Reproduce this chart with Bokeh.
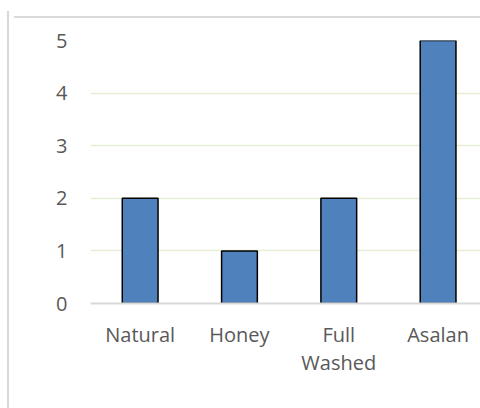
from bokeh.plotting import figure
from bokeh.models import Range1d, FixedTicker, Div
from bokeh.layouts import column
from bokeh.embed import file_html
from bokeh.resources import INLINE

categories = ["Natural", "Honey", "Full Washed", "Asalan"]
tick_labels = ["Natural", "Honey", "Full\nWashed", "Asalan"]
counts = [2, 1, 2, 5]
y_ticks = [0, 1, 2, 3, 4, 5]

xs = list(range(len(categories)))

FONT = "Open Sans"
TXT = "#595959"

W, H = 471, 385

fig = figure(width=W, height=H, output_backend="svg", toolbar_location=None,
             x_range=Range1d(-0.5, 3.427), y_range=Range1d(0, 5),
             min_border_left=81, min_border_right=0, min_border_top=17,
             min_border_bottom=105)

fig.vbar(x=xs, top=counts, width=0.36, bottom=0, fill_color="#4f81bd",
         line_color="#000000", line_width=1.5)

fig.outline_line_color = None
fig.background_fill_color = "white"
fig.border_fill_color = "white"

fig.xgrid.grid_line_color = None
fig.ygrid.grid_line_color = "#e6edd6"
fig.ygrid.grid_line_width = 1.5
fig.ygrid.ticker = FixedTicker(ticks=y_ticks[1:])

fig.yaxis.ticker = FixedTicker(ticks=y_ticks)
fig.yaxis.axis_line_color = None
fig.yaxis.major_tick_line_color = None
fig.yaxis.minor_tick_line_color = None
fig.yaxis.major_tick_out = 0
fig.yaxis.major_tick_in = 0
fig.yaxis.major_label_standoff = 23
fig.yaxis.major_label_text_font = FONT
fig.yaxis.major_label_text_font_size = "20px"
fig.yaxis.major_label_text_color = TXT

fig.xaxis.ticker = FixedTicker(ticks=xs)
fig.xaxis.major_label_overrides = {i: t for i, t in zip(xs, tick_labels)}
fig.xaxis.axis_line_color = "#d9d9d9"
fig.xaxis.axis_line_width = 2
fig.xaxis.major_tick_line_color = None
fig.xaxis.minor_tick_line_color = None
fig.xaxis.major_tick_out = 0
fig.xaxis.major_tick_in = 0
fig.xaxis.major_label_standoff = 17
fig.xaxis.major_label_text_font = FONT
fig.xaxis.major_label_text_font_size = "20px"
fig.xaxis.major_label_text_color = TXT
fig.xaxis.major_label_text_line_height = 1.05

# chart-area border: top strip as a thin Div, left strip as the column's shadow
top_rule = Div(text="", width=W, height=2,
               styles={"background-color": "#d9d9d9"})

p = column(top_rule, fig, spacing=0)
p.styles = {"margin-top": "11px", "margin-left": "9px",
            "box-shadow": "-2px 0px 0px 0px #d9d9d9"}

open("out.html", "w").write(file_html(p, INLINE))
